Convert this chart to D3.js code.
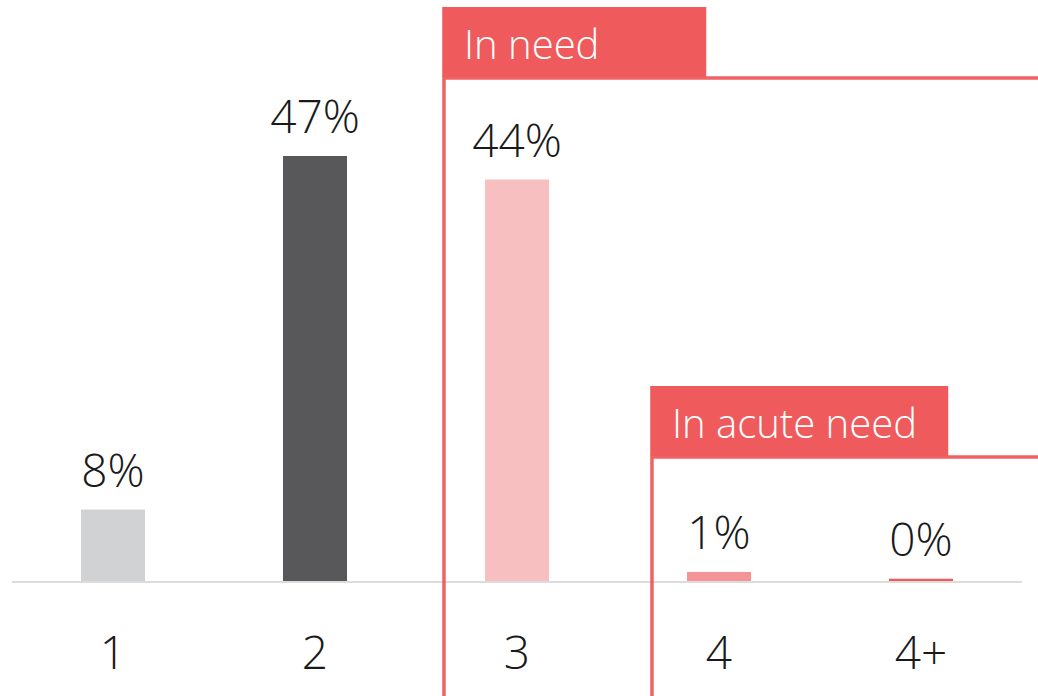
<!DOCTYPE html>
<html>
<head>
<meta charset="utf-8">
<script src="https://cdn.jsdelivr.net/npm/d3@7/dist/d3.min.js"></script>
<style>
  html, body { margin: 0; padding: 0; background: #fff; }
  svg { display: block; }
  text { font-family: "Segoe UI Light", "Open Sans", "Noto Sans", sans-serif; font-weight: 300; }
</style>
</head>
<body>
<svg id="chart" width="1038" height="696"></svg>
<script>
// ---- data ----
const categories = ["1", "2", "3", "4", "4+"];
const values = [7.9, 47, 44.4, 1, 0.25];
const barColors = ["#D1D2D4", "#58585A", "#F7BFC0", "#F49496", "#EF5A5C"];
const groupLabels = ["In need", "In acute need"];
const groupStart = ["3", "4"];

const W = 1038, H = 696;
const svg = d3.select("#chart");
const red = "#EF5A5C";

const x = d3.scaleBand()
  .domain(categories)
  .range([12, 1022])
  .paddingInner(0.683)
  .paddingOuter(0.683 / 2);

const y = d3.scaleLinear().domain([0, 47]).range([581, 156]);

// baseline
svg.append("line")
  .attr("x1", 12).attr("x2", 1022)
  .attr("y1", y(0) + 1).attr("y2", y(0) + 1)
  .attr("stroke", "#DCDCDC").attr("stroke-width", 2);

// bars
svg.selectAll("rect.bar")
  .data(values)
  .join("rect")
  .attr("class", "bar")
  .attr("x", (d, i) => x(categories[i]))
  .attr("width", x.bandwidth())
  .attr("y", d => y(d))
  .attr("height", d => y(0) - y(d))
  .attr("fill", (d, i) => barColors[i]);

// value labels
const fmt = d => d3.format(".0f")(d) + "%";
svg.selectAll("text.val")
  .data(values)
  .join("text")
  .attr("class", "val")
  .attr("x", (d, i) => x(categories[i]) + x.bandwidth() / 2)
  .attr("y", d => y(d) - 23)
  .attr("text-anchor", "middle")
  .attr("font-size", 46)
  .attr("fill", "#1a1a1a")
  .text(fmt);

// category labels
svg.selectAll("text.cat")
  .data(categories)
  .join("text")
  .attr("class", "cat")
  .attr("x", d => x(d) + x.bandwidth() / 2)
  .attr("y", 669)
  .attr("text-anchor", "middle")
  .attr("font-size", 46)
  .attr("fill", "#1a1a1a")
  .text(d => d);

// group boxes
const groups = [
  { label: groupLabels[0], left: x(groupStart[0]) - 41, top: 7, w: 264 },
  { label: groupLabels[1], left: x(groupStart[1]) - 35, top: 386, w: 298 }
];
groups.forEach(g => {
  const hh = 70;
  svg.append("path")
    .attr("d", `M${W + 2},${g.top + hh + 1} H${g.left} V${H + 2}`)
    .attr("fill", "none")
    .attr("stroke", red)
    .attr("stroke-opacity", 0.95)
    .attr("stroke-width", 3.5);
  svg.append("rect")
    .attr("x", g.left - 1.75)
    .attr("y", g.top)
    .attr("width", g.w)
    .attr("height", hh)
    .attr("fill", red);
  svg.append("text")
    .attr("x", g.left + 20)
    .attr("y", g.top + 52)
    .attr("font-size", 40)
    .attr("fill", "#fff")
    .text(g.label);
});
</script>
</body>
</html>
